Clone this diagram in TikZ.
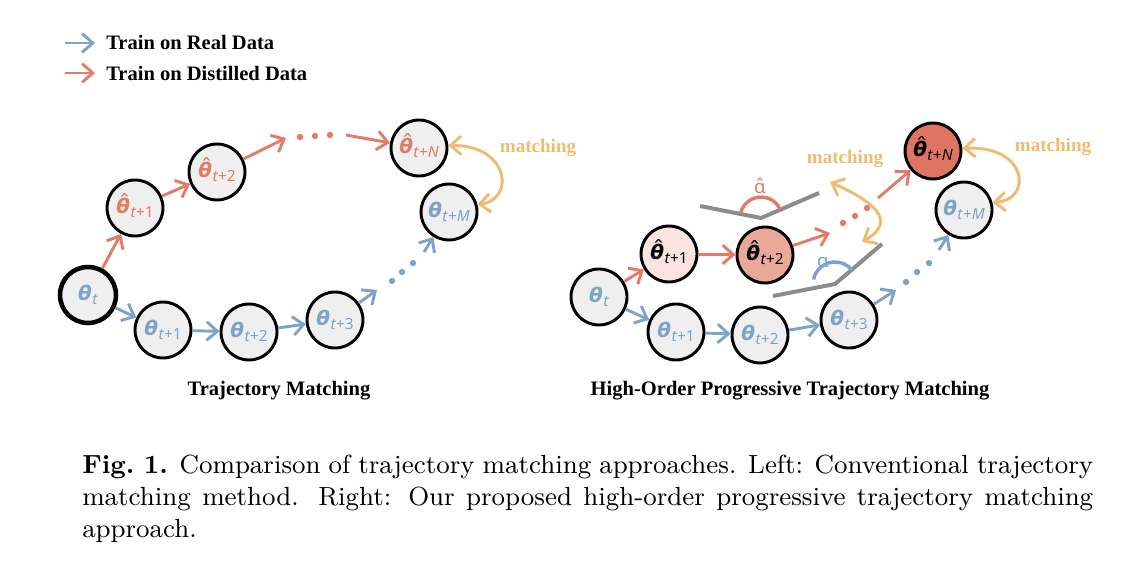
\documentclass[tikz,border=0pt]{standalone}
\usepackage{fontspec}
\usetikzlibrary{arrows.meta,calc}
\newfontfamily\lf{Noto Sans}
\newfontfamily\thf{DejaVu Sans}
\newfontfamily\tnr{Liberation Serif}
\definecolor{cblue}{RGB}{127,163,198}
\definecolor{cred}{RGB}{224,124,103}
\definecolor{corange}{RGB}{237,188,115}
\definecolor{cgline}{RGB}{140,140,140}
\definecolor{cfill}{RGB}{239,239,239}
\definecolor{cpinkA}{RGB}{251,227,223}
\definecolor{cpinkB}{RGB}{233,168,153}
\definecolor{cpinkC}{RGB}{222,116,97}
\newcommand\thsym{{\thf\bfseries\itshape θ}}
\newcommand\hthsym{\ooalign{\thsym\cr\hidewidth\kern0.14em\raisebox{0.2em}{\thf\scalebox{1.25}[1]{ˆ}}\hidewidth\cr}}
\newcommand\subs[1]{\kern0.3pt\raisebox{-0.4ex}{\lf\fontsize{11.5}{13}\selectfont #1}}
\newcommand\ahat{\ooalign{α\cr\hidewidth\raisebox{0.02em}{ˆ}\hidewidth\cr}}
\begin{document}
\begin{tikzpicture}[x=0.75pt,y=-0.75pt,
  base/.style={circle, draw=black, line width=2.2pt, minimum size=42pt, inner sep=0pt, fill=cfill, font=\lf\fontsize{15}{17}\selectfont},
  bl/.style={base, text=cblue},
  rd/.style={base, text=cred},
  ba/.style={-{Straight Barb[length=8pt,width=14pt]}, line width=2.2pt, draw=cblue},
  ra/.style={-{Straight Barb[length=8pt,width=14pt]}, line width=2.2pt, draw=cred},
  ma/.style={{Straight Barb[length=8pt,width=14pt]}-{Straight Barb[length=8pt,width=14pt]}, line width=2.2pt, draw=corange},
  dotb/.style={circle, fill=cblue, inner sep=0pt, minimum size=4.8pt},
  dotr/.style={circle, fill=cred, inner sep=0pt, minimum size=4.8pt},
  gl/.style={line width=3pt, draw=cgline},
  tlab/.style={font=\tnr\bfseries\fontsize{15.4}{18}\selectfont},
  mlab/.style={font=\tnr\bfseries\fontsize{14.3}{17}\selectfont, text=corange},
]
\useasboundingbox (0,0) rectangle (1148,578);

% legend
\coordinate (lg1a) at (65,43); \coordinate (lg1b) at (95,43);
\coordinate (lg2a) at (65,73); \coordinate (lg2b) at (95,73);
\draw[ba] (lg1a) -- (lg1b);
\draw[ra] (lg2a) -- (lg2b);
\node[tlab, anchor=west, inner sep=0pt] (lgt1) at (106,42) {Train on Real Data};
\node[tlab, anchor=west, inner sep=0pt] (lgt2) at (106,73) {Train on Distilled Data};

% ---------------- left panel
\node[bl, line width=3.4pt] (lt) at (88,295) {\thsym\subs{\textit{t}}};
\node[bl] (lt1) at (163,330) {\thsym\subs{\textit{t}+1}};
\node[bl] (lt2) at (249,332) {\thsym\subs{\textit{t}+2}};
\node[bl] (lt3) at (335,320) {\thsym\subs{\textit{t}+3}};
\node[bl] (ltM) at (449,212) {\thsym\subs{\textit{t}+\textit{M}}};
\node[rd] (lh1) at (135,208) {\hthsym\subs{\textit{t}+1}};
\node[rd] (lh2) at (217,172) {\hthsym\subs{\textit{t}+2}};
\node[rd] (lhN) at (419,148) {\hthsym\subs{\textit{t}+\textit{N}}};

\draw[ba] (lt) -- (lt1);
\draw[ba] (lt1) -- (lt2);
\draw[ba] (lt2) -- (lt3);
\coordinate (lbA) at (377,290);
\draw[ba] (lt3) -- (lbA);
\node[dotb] (ldb1) at (392,281) {};
\node[dotb] (ldb2) at (402,272) {};
\node[dotb] (ldb3) at (413,263) {};
\coordinate (lbB) at (424,252);
\draw[ba] (lbB) -- (ltM);

\draw[ra] (lt) -- (lh1);
\draw[ra] (lh1) -- (lh2);
\coordinate (lrA) at (286,138);
\draw[ra] (lh2) -- (lrA);
\node[dotr] (ldr1) at (300,137) {};
\node[dotr] (ldr2) at (315,136) {};
\node[dotr] (ldr3) at (330,135) {};
\coordinate (lrB) at (346,135);
\draw[ra] (lrB) -- (lhN);

\draw[ma] (lhN.5) .. controls (510,145) and (515,200) .. (ltM.15);
\node[mlab] (lm) at (538,148) {matching};

\node[tlab] (tl) at (279,391) {Trajectory Matching};

% ---------------- right panel
\coordinate (gA1) at (700,206); \coordinate (gV1) at (761,218); \coordinate (gB1) at (819,193);
\draw[gl] (gA1) -- (gV1) -- (gB1);
\draw[line width=2.6pt, draw=cred] ($(gV1)+(-25:21)$) arc[start angle=-25, end angle=-166, radius=21];
\node[text=cred, font=\lf\fontsize{14}{16}\selectfont, inner sep=0pt] (ah) at (760,188) {\ahat};

\coordinate (gA2) at (773,296); \coordinate (gV2) at (835,284); \coordinate (gB2) at (882,244);
\draw[gl] (gA2) -- (gV2) -- (gB2);
\draw[line width=2.6pt, draw=cblue] ($(gV2)+(-40:22)$) arc[start angle=-40, end angle=-168, radius=22];
\node[text=cblue, font=\lf\fontsize{14}{16}\selectfont, inner sep=0pt] (al) at (823,262) {α};

\node[bl] (rt) at (599,297) {\thsym\subs{\textit{t}}};
\node[bl] (rt1) at (676,332) {\thsym\subs{\textit{t}+1}};
\node[bl] (rt2) at (760,335) {\thsym\subs{\textit{t}+2}};
\node[bl] (rt3) at (849,320) {\thsym\subs{\textit{t}+3}};
\node[bl] (rtM) at (964,210) {\thsym\subs{\textit{t}+\textit{M}}};
\node[base, fill=cpinkA, text=black] (rh1) at (669,254) {\hthsym\subs{\textit{t}+1}};
\node[base, fill=cpinkB, text=black] (rh2) at (765,255) {\hthsym\subs{\textit{t}+2}};
\node[base, fill=cpinkC, text=black] (rhN) at (933,151) {\hthsym\subs{\textit{t}+\textit{N}}};

\draw[ba] (rt) -- (rt1);
\draw[ba] (rt1) -- (rt2);
\draw[ba] (rt2) -- (rt3);
\coordinate (rbA) at (896,290);
\draw[ba] (rt3) -- (rbA);
\node[dotb] (rdb1) at (906,282) {};
\node[dotb] (rdb2) at (917,272) {};
\node[dotb] (rdb3) at (929,263) {};
\coordinate (rbB) at (939,250);
\draw[ba] (rbB) -- (rtM);

\draw[ra] (rt) -- (rh1);
\draw[ra] (rh1) -- (rh2);
\coordinate (rrA) at (830,233);
\draw[ra] (rh2) -- (rrA);
\node[dotr] (rdr1) at (843,223) {};
\node[dotr] (rdr2) at (855,216) {};
\node[dotr] (rdr3) at (867,208) {};
\coordinate (rrB) at (878,198);
\draw[ra] (rrB) -- (rhN);

\coordinate (mA) at (830,182); \coordinate (mB) at (862,242);
\draw[ma] (mA) .. controls (870,200) and (900,220) .. (mB);
\node[mlab] (mm) at (845,159) {matching};

\draw[ma] (rhN.5) .. controls (1028,145) and (1033,200) .. (rtM.15);
\node[mlab] (rm) at (1053,147) {matching};

\node[tlab] (tr) at (790,391) {High-Order Progressive Trajectory Matching};

% caption
\node[anchor=north west, inner sep=0pt] (cap) at (82,455)
 {\scalebox{2.185}{\parbox[t]{347pt}{\fontsize{9}{11}\selectfont\textbf{Fig.~1.} Comparison of trajectory matching approaches. Left: Conventional trajectory\linebreak matching method. Right: Our proposed high-order progressive trajectory matching\linebreak approach.}}};
\end{tikzpicture}
\end{document}
